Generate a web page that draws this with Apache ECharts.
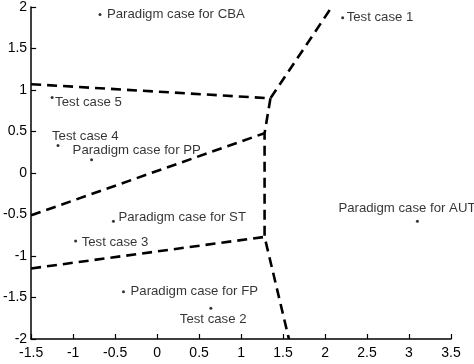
<!DOCTYPE html>
<html><head><meta charset="utf-8">
<script src="https://cdn.jsdelivr.net/npm/echarts@6/dist/echarts.min.js"></script>
<style>html,body{margin:0;padding:0;background:#fff}#c{width:474px;height:364px}</style>
</head><body><div id="c"></div>
<script>
// Points
const pointNames = ["Paradigm case for CBA","Test case 1","Test case 5","Test case 4","Paradigm case for PP","Paradigm case for ST","Test case 3","Paradigm case for FP","Test case 2","Paradigm case for AUT"];
const pointX = [-0.68, 2.21, -1.25, -1.18, -0.78, -0.52, -0.97, -0.40, 0.64, 3.10];
const pointY = [1.91, 1.87, 0.91, 0.33, 0.16, -0.58, -0.82, -1.43, -1.63, -0.58];
// Boundary polylines (dashed)
const boundaryA = [[-1.5, 1.07], [1.35, 0.90], [2.08, 2.0]];
const boundaryB = [[1.35, 0.90], [1.28, 0.48], [1.28, -0.77], [1.57, -2.0]];
const boundaryC = [[-1.5, -0.51], [1.28, 0.48]];
const boundaryD = [[-1.5, -1.15], [1.28, -0.77]];
// Axis ticks
const xTicks = [-1.5, -1, -0.5, 0, 0.5, 1, 1.5, 2, 2.5, 3, 3.5];
const yTicks = [-2, -1.5, -1, -0.5, 0, 0.5, 1, 1.5, 2];

// label offsets (style, kept separately)
const labelOffsets = [[5.5,0],[2.5,0],[1.5,5],[-7.5,-9],[-20.5,-9],[3.5,-4],[4.5,1],[5.5,0],[-32.5,11],[-80.5,-13]];

const font = "'Liberation Sans', Arial, sans-serif";
const dashStyle = {color:'#000', width:2.6, type:[10,6]};
const lineSeries = [boundaryA, boundaryB, boundaryC, boundaryD].map(d => ({
  type:'line', data:d, symbol:'none', lineStyle:dashStyle, silent:true, z:2, animation:false
}));

const chart = echarts.init(document.getElementById('c'), null, {renderer:'canvas'});
chart.setOption({
  animation:false,
  grid:{left:27, right:23, top:6, bottom:25, containLabel:false},
  xAxis:{type:'value', min:xTicks[0], max:xTicks[xTicks.length-1], interval:0.5,
    axisLine:{onZero:false, lineStyle:{color:'#000', width:1.5}},
    axisTick:{inside:true, length:5, lineStyle:{color:'#000', width:1.2}},
    axisLabel:{color:'#000', fontSize:14, fontFamily:font, margin:7, showMinLabel:true, showMaxLabel:true},
    splitLine:{show:false}},
  yAxis:{type:'value', min:yTicks[0], max:yTicks[yTicks.length-1], interval:0.5,
    axisLine:{show:true, onZero:false, lineStyle:{color:'#000', width:1.5}},
    axisTick:{show:true, inside:true, length:5, lineStyle:{color:'#000', width:1.2}},
    axisLabel:{color:'#000', fontSize:14, fontFamily:font, margin:4, showMinLabel:true, showMaxLabel:true},
    splitLine:{show:false}},
  series: lineSeries.concat([{
    type:'scatter', symbolSize:3, itemStyle:{color:'#000'}, z:5,
    data: pointNames.map((n,i)=>({name:n, value:[pointX[i], pointY[i]],
      label:{show:true, position:'right', distance:0, offset:labelOffsets[i],
        formatter:'{b}', color:'#000', fontSize:13.2, fontFamily:font}}))
  }])
});
</script></body></html>
